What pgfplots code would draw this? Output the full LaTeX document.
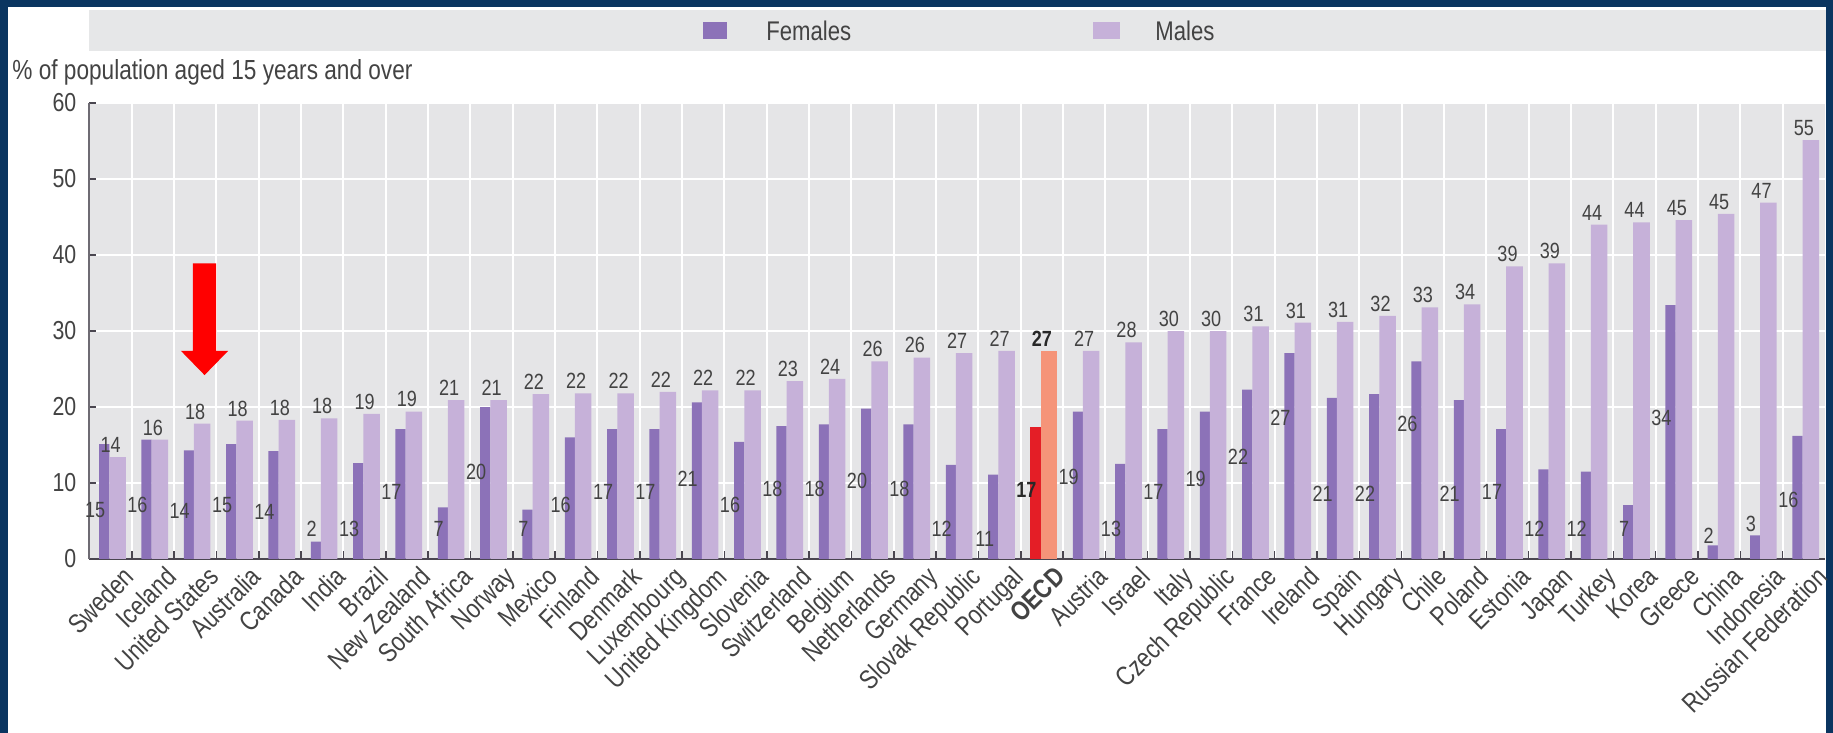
\documentclass[border=0pt]{standalone}
\usepackage{pgfplots}
\pgfplotsset{compat=1.18}
\usepackage{pgfplotstable}
\usepackage{fontspec}
\setmainfont{Liberation Sans}[FakeStretch=0.82]
\definecolor{navy}{HTML}{0A3560}
\definecolor{band}{HTML}{E6E7E8}
\definecolor{plotbg}{HTML}{E5E5E7}
\definecolor{fem}{HTML}{8C72B8}
\definecolor{mal}{HTML}{C6B1D9}
\definecolor{oecdf}{HTML}{E41E26}
\definecolor{oecdm}{HTML}{F59479}
\definecolor{txt}{HTML}{434343}
\definecolor{axc}{HTML}{4A4650}

\pgfplotstableread{
x f fl fv m mv
0 15.1 6.5 15 13.4 14
1 15.7 7.1 16 15.7 16
2 14.3 6.3 14 17.8 18
3 15.1 7.1 15 18.2 18
4 14.2 6.2 14 18.3 18
5 2.3 4.0 2 18.5 18
6 12.6 4.0 13 19.1 19
7 17.1 8.8 17 19.4 19
8 6.8 4.0 7 20.9 21
9 20.0 11.5 20 20.9 21
10 6.5 4.0 7 21.7 22
11 16.0 7.1 16 21.8 22
12 17.1 8.8 17 21.8 22
13 17.1 8.8 17 22.0 22
14 20.6 10.5 21 22.2 22
15 15.4 7.1 16 22.2 22
16 17.5 9.2 18 23.4 23
17 17.7 9.2 18 23.7 24
18 19.8 10.3 20 26.0 26
19 17.7 9.2 18 26.5 26
20 12.4 4.0 12 27.1 27
21 11.1 2.6 11 27.4 27
23 19.4 10.8 19 27.4 27
24 12.5 4.0 13 28.5 28
25 17.1 8.8 17 30.0 30
26 19.4 10.5 19 30.0 30
27 22.3 13.5 22 30.6 31
28 27.1 18.6 27 31.1 31
29 21.2 8.6 21 31.2 31
30 21.7 8.6 22 32.0 32
31 26.0 17.8 26 33.1 33
32 20.9 8.6 21 33.5 34
33 17.1 8.8 17 38.5 39
34 11.8 4.0 12 38.9 39
35 11.5 4.0 12 44.0 44
36 7.1 4.0 7 44.3 44
37 33.4 18.6 34 44.6 45
38 1.8 3.0 2 45.4 45
39 3.1 4.6 3 46.9 47
40 16.2 7.8 16 55.1 55
}\data

\begin{document}
\begin{tikzpicture}
\fill[navy] (-44.7pt,-87pt) rectangle (871.8pt,279.5pt);
\fill[white] (-40.7pt,-87pt) rectangle (868.3pt,276pt);
\fill[band] (0pt,254pt) rectangle (868.3pt,274.5pt);
\fill[fem] (306.8pt,260pt) rectangle (318.8pt,268.5pt);
\node[anchor=west, inner sep=0pt, text=txt, font=\fontsize{13.5}{15}\selectfont] at (338.3pt,264.25pt) {Females};
\fill[mal] (501.8pt,260pt) rectangle (515.3pt,268.5pt);
\node[anchor=west, inner sep=0pt, text=txt, font=\fontsize{13.5}{15}\selectfont] at (532.8pt,264.25pt) {Males};
\node[anchor=west, inner sep=0pt, text=txt, font=\fontsize{13.8}{15}\selectfont] at (-38.7pt,243.5pt) {\% of population aged 15 years and over};
\begin{axis}[
  at={(0pt,0pt)}, anchor=south west,
  scale only axis, width=867.8pt, height=228pt,
  xmin=-0.5, xmax=40.5, ymin=0, ymax=60,
  /pgf/number format/assume math mode=true,
  axis background/.style={fill=plotbg},
  axis x line*=bottom, axis y line*=left,
  x axis line style={-, draw=axc, line width=1.3pt},
  y axis line style={-, draw=axc!80, line width=1pt},
  xtick={0,...,40},
  xticklabels={Sweden, Iceland, United States, Australia, Canada, India, Brazil, New Zealand, South Africa, Norway, Mexico, Finland, Denmark, Luxembourg, United Kingdom, Slovenia, Switzerland, Belgium, Netherlands, Germany, Slovak Republic, Portugal, \textbf{OECD}, Austria, Israel, Italy, Czech Republic, France, Ireland, Spain, Hungary, Chile, Poland, Estonia, Japan, Turkey, Korea, Greece, China, Indonesia, Russian Federation},
  minor xtick={0.5,1.5,...,39.5},
  xminorgrids=true,
  ytick={0,10,...,60},
  ymajorgrids=true,
  major grid style={white, line width=1.1pt},
  minor grid style={white, line width=1.1pt},
  tick align=inside,
  major tick length=3.5pt, minor tick length=4pt,
  major x tick style={draw=none},
  minor x tick style={draw=axc, line width=0.8pt},
  ytick style={draw=axc, line width=0.8pt},
  xticklabel style={rotate=45, anchor=north east, inner sep=1pt, text=txt, font=\fontsize{13.5}{15}\selectfont, xshift=3pt, yshift=-5pt},
  yticklabel style={text=txt, font=\fontsize{13}{15}\selectfont, xshift=-3pt},
  clip=false,
]
\addplot[ybar, bar width=0.24, bar shift=-0.15, fill=fem, draw=none] table[x=x, y=f]{\data};
\addplot[ybar, bar width=0.39, bar shift=0.165, fill=mal, draw=none,
  nodes near coords, point meta=explicit,
  nodes near coords style={text=txt, font=\fontsize{11}{12}\selectfont, inner sep=2pt}]
  table[x=x, y=m, meta=mv]{\data};
\addplot[draw=none, mark=none, nodes near coords, point meta=explicit,
  nodes near coords style={anchor=east, inner sep=0pt, text=txt, font=\fontsize{11}{12}\selectfont}]
  table[x expr=\thisrow{x}-0.12, y=fl, meta=fv]{\data};
% OECD highlight
\addplot[ybar, bar width=0.24, bar shift=-0.15, fill=oecdf, draw=none] coordinates {(22,17.4)};
\addplot[ybar, bar width=0.39, bar shift=0.165, fill=oecdm, draw=none,
  nodes near coords={\textbf{27}},
  nodes near coords style={text=txt!60!black, font=\fontsize{11}{12}\selectfont, inner sep=2pt}]
  coordinates {(22,27.4)};
\addplot[draw=none, mark=none, nodes near coords={\textbf{17}},
  nodes near coords style={anchor=east, inner sep=0pt, text=txt!60!black, font=\fontsize{11}{12}\selectfont}]
  coordinates {(21.88,9.1)};
% red arrow annotation
\fill[red] (axis cs:1.945,38.9) -- (axis cs:2.495,38.9) -- (axis cs:2.495,27.4) -- (axis cs:2.78,27.4) -- (axis cs:2.22,24.2) -- (axis cs:1.66,27.4) -- (axis cs:1.945,27.4) -- cycle;
\end{axis}
\pgfresetboundingbox
\useasboundingbox (-44.7pt,-87pt) rectangle (871.8pt,279.5pt);
\end{tikzpicture}
\end{document}
